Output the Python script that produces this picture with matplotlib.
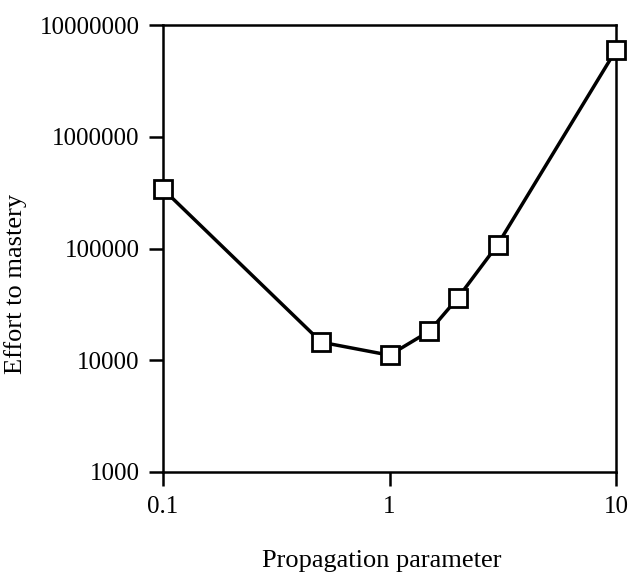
import matplotlib
matplotlib.use('Agg')
import matplotlib.pyplot as plt
from matplotlib.ticker import FixedLocator, FixedFormatter, NullLocator

# propagation parameter vs. effort to mastery
propagation = [0.1, 0.5, 1.0, 1.5, 2.0, 3.0, 10.0]
effort = [340000, 14500, 11100, 18200, 36000, 108000, 5970000]

x_ticks = [0.1, 1, 10]
x_labels = ['0.1', '1', '10']
y_ticks = [1000, 10000, 100000, 1000000, 10000000]
y_labels = ['1000', '10000', '100000', '1000000', '10000000']

plt.rcParams['font.family'] = ['Liberation Serif', 'DejaVu Serif']

fig = plt.figure(figsize=(6.3, 5.79), dpi=100)
ax = fig.add_axes([163 / 630, 1 - 472 / 579, 453 / 630, 447 / 579])

ax.plot(propagation, effort, color='black', linewidth=2.5, marker='s',
        markersize=13, markerfacecolor='white', markeredgecolor='black',
        markeredgewidth=2, clip_on=False, zorder=3)

ax.set_xscale('log')
ax.set_yscale('log')
ax.set_xlim(0.1, 10)
ax.set_ylim(1000, 10000000)

ax.xaxis.set_major_locator(FixedLocator(x_ticks))
ax.xaxis.set_major_formatter(FixedFormatter(x_labels))
ax.yaxis.set_major_locator(FixedLocator(y_ticks))
ax.yaxis.set_major_formatter(FixedFormatter(y_labels))
ax.xaxis.set_minor_locator(NullLocator())
ax.yaxis.set_minor_locator(NullLocator())

ax.tick_params(axis='both', direction='out', length=10, width=1.8,
               labelsize=18, pad=7, top=False, right=False)
for spine in ax.spines.values():
    spine.set_linewidth(1.8)

ax.set_xlabel('Propagation parameter', fontsize=19)
ax.set_ylabel('Effort to mastery', fontsize=19)
ax.xaxis.set_label_coords(0.483, -0.175)
ax.yaxis.set_label_coords(-0.30, 0.42)

fig.savefig('out.png', dpi=100)
